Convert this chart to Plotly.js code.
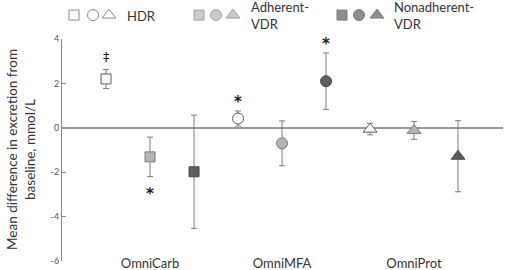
<!DOCTYPE html>
<html>
<head>
<meta charset="utf-8">
<script src="https://cdn.plot.ly/plotly-3.0.1.min.js"></script>
<style>html,body{margin:0;padding:0;background:#fff;}#chart{width:505px;height:270px;}</style>
</head>
<body>
<div id="chart"></div>
<script>
// Categories (x axis) and series
const groups = ['OmniCarb', 'OmniMFA', 'OmniProt'];
const seriesNames = ['HDR', 'Adherent-VDR', 'Nonadherent-VDR'];

// Mean difference in excretion from baseline (mmol/L) and error bar half-widths
const hdrMean = [2.20, 0.42, -0.06];
const hdrErr = [0.43, 0.34, 0.26];
const adhMean = [-1.31, -0.70, -0.12];
const adhErr = [0.89, 1.01, 0.40];
const nonMean = [-1.98, 2.10, -1.28];
const nonErr = [2.55, 1.27, 1.60];

// Significance marks: group index, series index, symbol, side of the error bar
const sigGroup = [0, 0, 1, 1];
const sigSeries = [0, 1, 0, 2];
const sigLabel = ['‡', '*', '*', '*'];
const sigSide = ['above', 'below', 'above', 'above'];

// Y axis ticks
const yTickVals = [-6, -4, -2, 0, 2, 4];
const yTickText = ['-6', '-4', '-2', '0', '2', '4'];

const FONT = 'Lato, "Open Sans", sans-serif';
const symbols = ['square', 'circle', 'triangle-up'];
const fills = ['#ffffff', '#b4b4b4', '#5e5e5e'];
const outlines = ['#5a5a5a', '#7a7a7a', '#474747'];
const sizes = {square: 10, circle: 11, 'triangle-up': 12};
const offsets = [-1 / 3, 0, 1 / 3];

const means = [hdrMean, adhMean, nonMean];
const errs = [hdrErr, adhErr, nonErr];

const traces = [];
// One trace per series and group so each group gets its own marker shape
means.forEach((m, s) => {
  groups.forEach((g, gi) => {
    traces.push({
      type: 'scatter', mode: 'markers',
      x: [gi + 1 + offsets[s]], y: [m[gi]],
      name: seriesNames[s], showlegend: false, hoverinfo: 'skip',
      marker: {symbol: symbols[gi], size: sizes[symbols[gi]], color: fills[s],
               line: {color: outlines[s], width: 1}},
      error_y: {type: 'data', array: [errs[s][gi]], visible: true,
                color: '#7d7d7d', thickness: 1, width: 3},
      xaxis: 'x', yaxis: 'y'
    });
  });
});

// Legend key: three marker shapes per series, drawn on a small overlay axis
const keyX = [[74, 93, 109], [199, 216, 233], [342, 359, 377]];
keyX.forEach((xs, s) => {
  traces.push({
    type: 'scatter', mode: 'markers', x: xs, y: [0.64, 0.64, 0.64],
    showlegend: false, hoverinfo: 'skip', cliponaxis: false,
    marker: {symbol: symbols, size: [10, 11, 12], color: fills[s],
             line: {color: outlines[s], width: 1}},
    xaxis: 'x2', yaxis: 'y2'
  });
});

const annotations = [];
sigGroup.forEach((gi, k) => {
  const s = sigSeries[k];
  const above = sigSide[k] === 'above';
  const yv = means[s][gi] + (above ? errs[s][gi] : -errs[s][gi]);
  const isStar = sigLabel[k] === '*';
  annotations.push({
    x: gi + 1 + offsets[s], y: yv, xref: 'x', yref: 'y',
    text: isStar ? '<b>*</b>' : sigLabel[k], showarrow: false,
    yshift: above ? (isStar ? 9 : 13) : (isStar ? -17 : -13),
    font: {family: '"DejaVu Sans", sans-serif', size: isStar ? 15 : 13, color: '#1e1e1e'}
  });
});

// Legend labels
const keyText = [
  {x: 125, text: 'HDR'},
  {x: 249, text: 'Adherent-<br>VDR'},
  {x: 392, text: 'Nonadherent-<br>VDR'}
];
keyText.forEach(t => {
  annotations.push({
    x: t.x, xref: 'x2', y: (261 - 16) / 258, yref: 'paper',
    text: t.text, showarrow: false, xanchor: 'left', yanchor: 'middle', align: 'left',
    font: {family: FONT, size: 13, color: '#333'}
  });
});

// Y axis title
annotations.push({
  x: -41 / 441, xref: 'paper', y: (261 - 150) / 258, yref: 'paper',
  text: 'Mean difference in excretion from<br>baseline, mmol/L', textangle: -90,
  showarrow: false, xanchor: 'center', yanchor: 'middle',
  font: {family: FONT, size: 13.5, color: '#333'}
});

const layout = {
  width: 505, height: 270,
  margin: {l: 62, r: 2, t: 3, b: 9},
  paper_bgcolor: '#fff', plot_bgcolor: 'rgba(0,0,0,0)',
  showlegend: false,
  font: {family: FONT, color: '#333'},
  xaxis: {
    range: [0.333, 3.674], tickvals: [1, 2, 3], ticktext: groups,
    showgrid: false, zeroline: false, showline: false, ticks: '',
    tickfont: {family: FONT, size: 13, color: '#333'},
    ticklabelstandoff: -7, fixedrange: true
  },
  yaxis: {
    domain: [0, 222 / 258], range: [-6, 4],
    tickvals: yTickVals, ticktext: yTickText,
    ticks: 'inside', ticklen: 4, tickcolor: '#8a8a8a', tickwidth: 1,
    showline: true, linecolor: '#8a8a8a', linewidth: 1,
    showgrid: false, zeroline: true, zerolinecolor: '#9a9a9a', zerolinewidth: 2,
    tickfont: {family: FONT, size: 9, color: '#555'}, fixedrange: true
  },
  xaxis2: {domain: [0, 1], range: [62, 503], visible: false, anchor: 'y2', fixedrange: true},
  yaxis2: {domain: [0.87, 1], range: [0, 1], visible: false, anchor: 'x2', fixedrange: true},
  annotations: annotations
};

Plotly.newPlot('chart', traces, layout, {staticPlot: true, displayModeBar: false});
</script>
</body>
</html>
